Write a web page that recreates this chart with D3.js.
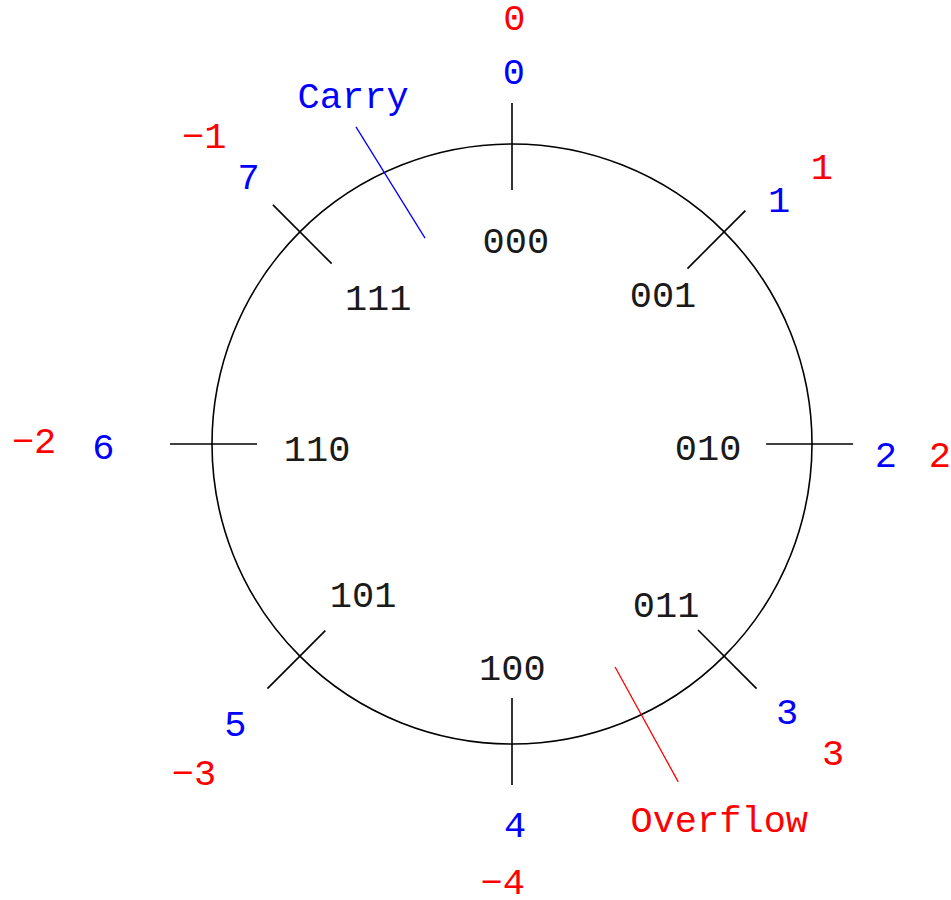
<!DOCTYPE html>
<html>
<head>
<meta charset="utf-8">
<script src="https://cdn.jsdelivr.net/npm/d3@7"></script>
<style>
  body { margin: 0; background: #fff; }
  svg text { font-family: "Liberation Mono", "DejaVu Sans Mono", monospace; font-size: 37px; }
</style>
</head>
<body>
<figure id="wheel" style="margin:0"></figure>
<script>
// 3-bit codes around the wheel, with unsigned and two's complement readings
const codes = ["000", "001", "010", "011", "100", "101", "110", "111"];
const unsignedVals = [0, 1, 2, 3, 4, 5, 6, 7];
const signedVals = [0, 1, 2, 3, -4, -3, -2, -1];
const marks = [
  { name: "Carry", between: [7, 0] },
  { name: "Overflow", between: [3, 4] }
];

// hand placement (degrees off the tick, radius in circle units)
const tickLayout = { inner: [0.847, 0.827, 0.847, 0.877, 0.847, 0.88, 0.85, 0.85], outer: [1.137, 1.1, 1.137, 1.153, 1.137, 1.153, 1.14, 1.127] };
const codeLayout = { off: [1.1, 0.4, 1.3, 1.4, -0.1, -0.5, -1.5, 2.4], r: [0.675, 0.707, 0.654, 0.745, 0.747, 0.708, 0.65, 0.659] };
const unsLayout = { off: [0.3, 2.6, 1.7, -0.7, -0.45, -0.4, -0.5, 0.3], r: [1.238, 1.206, 1.247, 1.281, 1.273, 1.313, 1.362, 1.248] };
const sgnLayout = { off: [0.3, 3.3, 1.5, -1.1, 1.2, -1.0, 0.3, 0.0], r: [1.417, 1.383, 1.427, 1.486, 1.462, 1.526, 1.593, 1.451] };
const markLayout = {
  Carry: { line: [[-26.2, 1.178], [-22.9, 0.745]], text: [-24.55, 1.275], color: "#0000ff" },
  Overflow: { line: [[155.2, 0.819], [153.8, 1.255]], text: [151.2, 1.434], color: "#ff0000" }
};

const width = 951, height = 900;
const cx = 512, cy = 444;

const svg = d3.select("figure#wheel")
  .append("svg")
  .attr("width", width)
  .attr("height", height)
  .append("g")
  .attr("transform", "translate(" + cx + "," + cy + ")");

const angle = d3.scaleLinear().domain([0, 360]).range([0, 2 * Math.PI]);
const radius = d3.scaleLinear().domain([0, 1]).range([0, 300]);
const slot = d3.scaleLinear().domain([0, codes.length]).range([0, 360]);

function polar(deg, rr) {
  const a = angle(deg), r = radius(rr);
  return [r * Math.sin(a), -r * Math.cos(a)];
}

// the wheel
svg.append("circle")
  .attr("r", radius(1))
  .attr("fill", "none")
  .attr("stroke", "#000")
  .attr("stroke-width", 1.6);

// ticks
svg.selectAll("line.tick")
  .data(codes)
  .enter()
  .append("line")
  .attr("class", "tick")
  .attr("x1", (d, i) => polar(slot(i), tickLayout.inner[i])[0])
  .attr("y1", (d, i) => polar(slot(i), tickLayout.inner[i])[1])
  .attr("x2", (d, i) => polar(slot(i), tickLayout.outer[i])[0])
  .attr("y2", (d, i) => polar(slot(i), tickLayout.outer[i])[1])
  .attr("stroke", "#000")
  .attr("stroke-width", 1.6);

function ring(values, layout, color) {
  svg.selectAll(null)
    .data(values)
    .enter()
    .append("text")
    .attr("x", (d, i) => polar(slot(i) + layout.off[i], layout.r[i])[0])
    .attr("y", (d, i) => polar(slot(i) + layout.off[i], layout.r[i])[1])
    .attr("dy", "0.31em")
    .attr("text-anchor", "middle")
    .attr("fill", color)
    .text(d => typeof d === "number" && d < 0 ? "\u2212" + Math.abs(d) : d);
}

ring(codes, codeLayout, "#1a1a1a");
ring(unsignedVals, unsLayout, "#0000ff");
ring(signedVals, sgnLayout, "#ff0000");

// carry / overflow boundaries
marks.forEach(m => {
  const L = markLayout[m.name];
  const p0 = polar(L.line[0][0], L.line[0][1]);
  const p1 = polar(L.line[1][0], L.line[1][1]);
  svg.append("line")
    .attr("x1", p0[0]).attr("y1", p0[1])
    .attr("x2", p1[0]).attr("y2", p1[1])
    .attr("stroke", L.color)
    .attr("stroke-width", 1.3);
  const t = polar(L.text[0], L.text[1]);
  svg.append("text")
    .attr("x", t[0]).attr("y", t[1])
    .attr("dy", "0.31em")
    .attr("text-anchor", "middle")
    .attr("fill", L.color)
    .text(m.name);
});
</script>
</body>
</html>
